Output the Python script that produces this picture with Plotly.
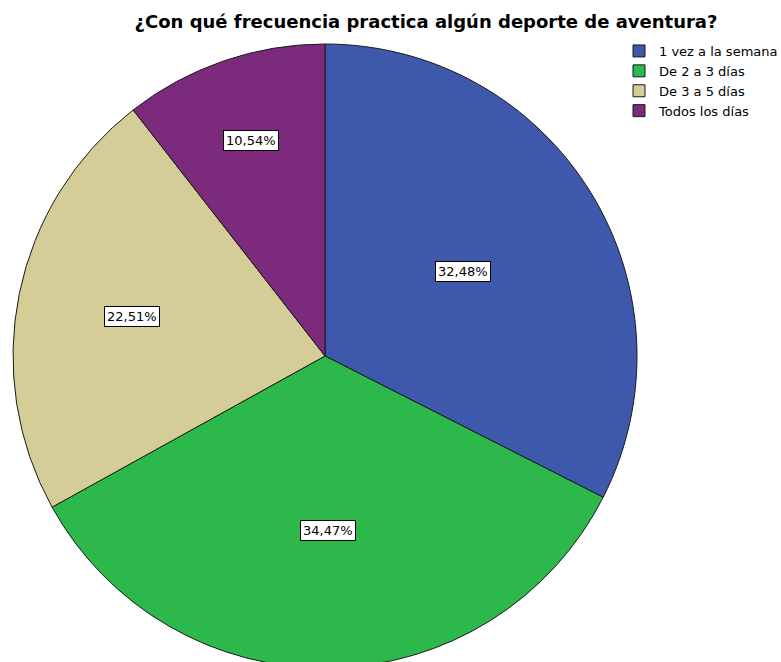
import math
import plotly.graph_objects as go

categorias = ['1 vez a la semana', 'De 2 a 3 días', 'De 3 a 5 días', 'Todos los días']
porcentajes = [32.48, 34.47, 22.51, 10.54]
colores = ['#3e58ab', '#2db84b', '#d4cd98', '#7b2a7c']
# distancia relativa de cada etiqueta al centro (estilo SPSS)
radio_etiqueta = [0.52, 0.56, 0.63, 0.73]

W, H = 781, 670
cx, cy, R = 325, 356, 312  # centro y radio del pastel en píxeles
FUENTE = 'DejaVu Sans, Arial'

fig = go.Figure()
fig.add_trace(go.Pie(
    labels=categorias,
    values=porcentajes,
    sort=False,
    direction='clockwise',
    rotation=0,
    textinfo='none',
    hoverinfo='label+percent',
    marker=dict(colors=colores, line=dict(color='#1a1a1a', width=1)),
    domain=dict(x=[(cx - R) / W, (cx + R) / W],
                y=[(H - cy - R) / H, (H - cy + R) / H]),
))

# etiquetas con recuadro, colocadas en el ángulo medio de cada sector
total = sum(porcentajes)
acum = 0
anotaciones = []
for v, rf in zip(porcentajes, radio_etiqueta):
    mid = (acum + v / 2) / total * 2 * math.pi
    acum += v
    px_ = cx + rf * R * math.sin(mid)
    py_ = cy - rf * R * math.cos(mid)
    anotaciones.append(dict(
        x=px_ / W, y=1 - py_ / H, xref='paper', yref='paper',
        xanchor='center', yanchor='middle',
        text=f'{v:.2f}%'.replace('.', ','), showarrow=False,
        font=dict(family=FUENTE, size=13, color='black'),
        bgcolor='white', bordercolor='black', borderwidth=1, borderpad=2,
    ))

fig.update_layout(
    width=W, height=H,
    margin=dict(l=0, r=0, t=0, b=0, autoexpand=False),
    paper_bgcolor='white',
    font=dict(family=FUENTE, color='black'),
    title=dict(text='<b>¿Con qué frecuencia practica algún deporte de aventura?</b>',
               x=426 / W, xanchor='center', y=1 - 22 / H, yanchor='middle',
               font=dict(size=18)),
    legend=dict(x=619 / W, xanchor='left', y=1 - 36 / H, yanchor='top',
                font=dict(size=13), itemwidth=30, tracegroupgap=0,
                bgcolor='rgba(0,0,0,0)'),
    annotations=anotaciones,
)

fig.write_html("out.html", config={'displayModeBar': False},
               post_script="document.body.style.margin='0';")
